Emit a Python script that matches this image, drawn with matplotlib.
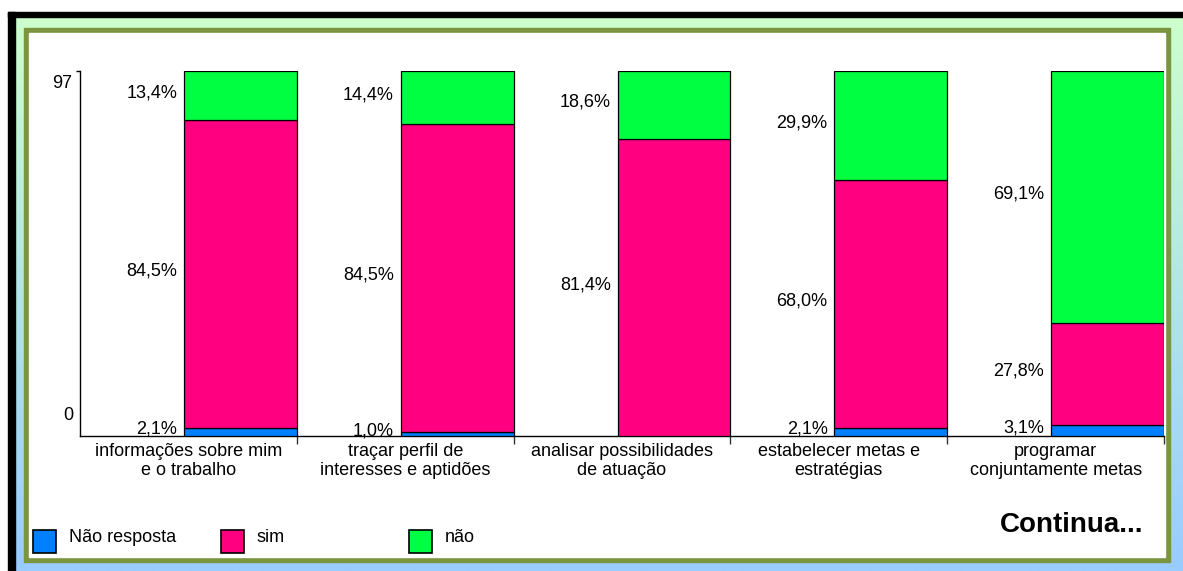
import numpy as np
import matplotlib
matplotlib.use("Agg")
import matplotlib.pyplot as plt
from matplotlib.patches import Rectangle
from matplotlib.transforms import ScaledTranslation

plt.rcParams['font.family'] = ['Liberation Sans', 'DejaVu Sans']

# Données (en % des 97 répondants)
categorias = ["informações sobre mim\ne o trabalho",
              "traçar perfil de\ninteresses e aptidões",
              "analisar possibilidades\nde atuação",
              "estabelecer metas e\nestratégias",
              "programar\nconjuntamente metas"]
nao_resposta = [2.1, 1.0, 0.0, 2.1, 3.1]
sim = [84.5, 84.5, 81.4, 68.0, 27.8]
nao = [13.4, 14.4, 18.6, 29.9, 69.1]
series_nomes = ["Não resposta", "sim", "não"]
cores = ["#0080ff", "#ff0080", "#00ff40"]
total_respondentes = 97

W, H = 1183, 571
fig = plt.figure(figsize=(W / 100, H / 100), dpi=100)
fig.patch.set_facecolor("white")

# Fond : cadre en dégradé, ombre noire, bordure olive
bg = fig.add_axes([0, 0, 1, 1], zorder=-10)
bg.set_xlim(0, W)
bg.set_ylim(H, 0)
bg.axis("off")
grad = np.linspace(0, 1, 256)[:, None]
top_c = np.array([0xcc, 0xff, 0xcc]) / 255
bot_c = np.array([0x99, 0xcc, 0xff]) / 255
img = top_c[None, None, :] * (1 - grad[:, :, None]) + bot_c[None, None, :] * grad[:, :, None]
bg.imshow(img, extent=[15, W, H, 17], aspect="auto", zorder=0)
bg.add_patch(Rectangle((8, 12), 7, H - 12, color="black", zorder=1))
bg.add_patch(Rectangle((8, 12), W - 8, 5, color="black", zorder=1))
bg.add_patch(Rectangle((24, 28), 1146, 534, color="#7a9440", zorder=2))
bg.add_patch(Rectangle((29, 33), 1136, 524, color="white", zorder=3))

# Légende manuelle
for i, (nome, cor) in enumerate(zip(series_nomes, cores)):
    x0 = 33 + i * 188
    bg.add_patch(Rectangle((x0, 530), 23, 23, facecolor=cor, edgecolor="black", lw=1.2, zorder=4))
    bg.text(x0 + 36, 538, nome, fontsize=13, va="center", ha="left", zorder=5)
bg.text(1143, 525, "Continua...", fontsize=20, fontweight="bold", ha="right", va="center", zorder=5)

# Graphique principal
ax = fig.add_axes([80 / W, (H - 436) / H, 1084 / W, 365 / H])
ax.set_facecolor("none")
x = np.arange(len(categorias)) + 0.48
largura = 0.52
base = np.zeros(len(categorias))
for vals, cor in zip([nao_resposta, sim, nao], cores):
    vals = np.array(vals)
    ax.bar(x, vals, width=largura, bottom=base, align="edge", color=cor,
           edgecolor="black", linewidth=0.9, zorder=3)
    for xi, b, v in zip(x, base, vals):
        if v > 0:
            ax.annotate(f"{v:.1f}".replace(".", ",") + "%", xy=(xi, b + v / 2),
                        xytext=(-5, 2), textcoords="offset points",
                        ha="right", va="center", fontsize=13, zorder=4)
    base = base + vals

ax.set_xlim(0, len(categorias))
ax.set_ylim(0, 100)
for s in ["top", "right"]:
    ax.spines[s].set_visible(False)
for s in ["left", "bottom"]:
    ax.spines[s].set_linewidth(1.0)

ax.set_xticks(np.arange(len(categorias)) + 0.5)
ax.set_xticklabels(categorias, fontsize=13, linespacing=1.15)
ax.set_xticks(np.arange(1, len(categorias) + 1), minor=True)
ax.tick_params(axis="x", which="major", length=0, pad=5)
ax.tick_params(axis="x", which="minor", length=6, width=1, color="#333333")

ax.set_yticks([0, 100])
ax.set_yticklabels(["0", str(total_respondentes)], fontsize=13)
ax.tick_params(axis="y", length=3, width=1, pad=3)
ax.yaxis.get_major_ticks()[0].tick1line.set_visible(False)
lbl0 = ax.get_yticklabels()[0]
lbl0.set_transform(lbl0.get_transform() + ScaledTranslation(2 / 100, 23 / 100, fig.dpi_scale_trans))
lbl97 = ax.get_yticklabels()[1]
lbl97.set_transform(lbl97.get_transform() + ScaledTranslation(0, -10 / 100, fig.dpi_scale_trans))

fig.savefig("out.png", dpi=100)
